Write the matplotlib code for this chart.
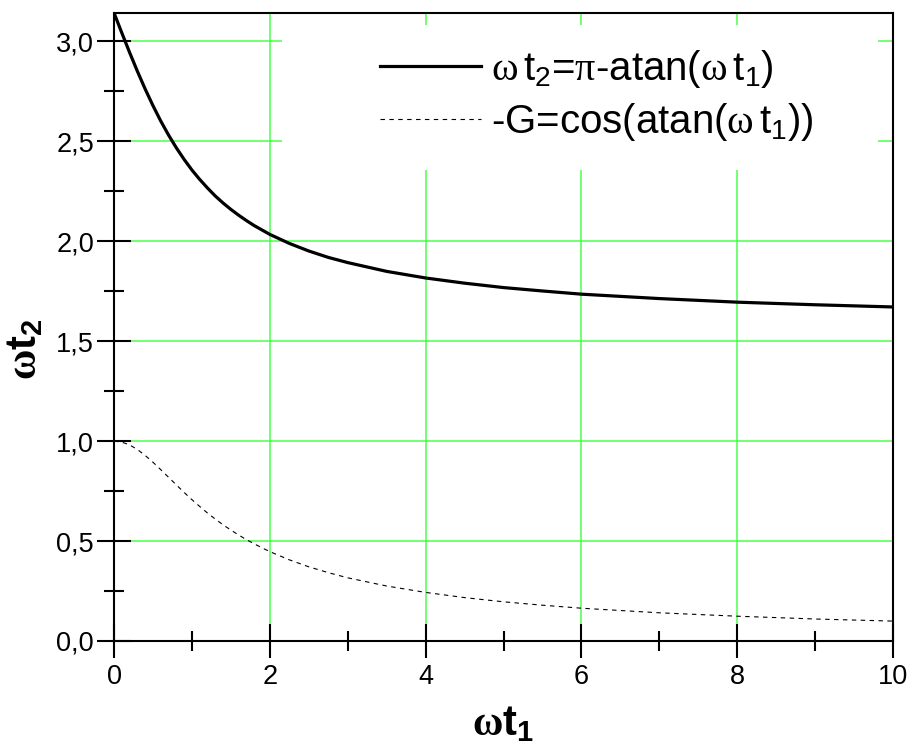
import matplotlib
matplotlib.use("Agg")
import matplotlib.pyplot as plt
import matplotlib.patches as mpatches
from matplotlib.ticker import MultipleLocator, FuncFormatter

# values
wt1 = [0, 0.1, 0.2, 0.3, 0.4, 0.5, 0.6, 0.7, 0.8, 0.9, 1.0, 1.1, 1.2, 1.3,
       1.4, 1.5, 1.6, 1.7, 1.8, 1.9, 2.0, 2.25, 2.5, 2.75, 3.0, 3.5, 4.0,
       4.5, 5.0, 5.5, 6.0, 7.0, 8.0, 9.0, 10.0]
wt2 = [3.142, 3.042, 2.944, 2.850, 2.761, 2.678, 2.601, 2.531, 2.467, 2.409,
       2.356, 2.309, 2.266, 2.226, 2.191, 2.159, 2.130, 2.103, 2.078, 2.056,
       2.034, 1.989, 1.951, 1.919, 1.893, 1.849, 1.816, 1.790, 1.768, 1.751,
       1.735, 1.713, 1.695, 1.682, 1.671]
minus_g = [1.000, 0.995, 0.981, 0.958, 0.928, 0.894, 0.857, 0.819, 0.781,
           0.743, 0.707, 0.673, 0.640, 0.610, 0.581, 0.555, 0.530, 0.507,
           0.486, 0.466, 0.447, 0.406, 0.371, 0.342, 0.316, 0.275, 0.243,
           0.217, 0.196, 0.179, 0.164, 0.141, 0.124, 0.110, 0.0995]

label_wt2 = (r"$\mathcal{\omega}\,\mathrm{t}_2\text{=}\mathcal{\pi}"
             r"\text{-atan(}\mathcal{\omega}\,\mathrm{t}_1\text{)}$")
label_g = r"$\text{-G=cos(atan(}\mathcal{\omega}\,\mathrm{t}_1\text{))}$"

plt.rcParams["font.family"] = ["Liberation Sans", "DejaVu Sans"]
plt.rcParams["mathtext.fontset"] = "custom"
plt.rcParams["mathtext.rm"] = "Liberation Sans"
plt.rcParams["mathtext.it"] = "Liberation Sans:italic"
plt.rcParams["mathtext.bf"] = "Liberation Sans:bold"
plt.rcParams["mathtext.cal"] = "Liberation Serif"
plt.rcParams["mathtext.sf"] = "Liberation Serif:bold"

fig = plt.figure(figsize=(9.13, 7.43), dpi=100)
ax = fig.add_axes([0.1249, 0.1373, 0.8532, 0.8452])

ax.plot(wt1, wt2, color="black", linewidth=2.3, zorder=3, label=label_wt2)
ax.plot(wt1, minus_g, color="black", linewidth=0.8, linestyle=(0, (4, 4)),
        zorder=3, label=label_g)

ax.set_xlim(0, 10)
ax.set_ylim(0, 3.1416)

ax.xaxis.set_major_locator(MultipleLocator(2))
ax.xaxis.set_minor_locator(MultipleLocator(1))
ax.yaxis.set_major_locator(MultipleLocator(0.5))
ax.yaxis.set_minor_locator(MultipleLocator(0.25))
ax.xaxis.set_major_formatter(FuncFormatter(lambda v, p: f"{v:g}"))
ax.yaxis.set_major_formatter(FuncFormatter(lambda v, p: f"{v:.1f}".replace(".", ",")))

ax.tick_params(which="major", direction="inout", length=25, width=1.5,
               labelsize=19.5, top=False, right=False)
ax.tick_params(axis="y", which="major", pad=2)
ax.tick_params(axis="x", which="major", pad=4)
ax.tick_params(which="minor", direction="inout", length=14, width=1.5,
               top=False, right=False)
for spine in ax.spines.values():
    spine.set_linewidth(1.5)

ax.set_axisbelow(True)
ax.grid(True, which="major", color="#30FF30", linewidth=1.2, alpha=0.8)

# white area behind the legend, hides the grid there
ax.add_patch(mpatches.Rectangle((0.2157, 0.750), 0.7653, 0.231,
                                transform=ax.transAxes, facecolor="white",
                                edgecolor="none", zorder=1))

ax.legend(loc="upper left", bbox_to_anchor=(0.3415, 0.944), frameon=False,
          fontsize=29, handlelength=2.5, handletextpad=0.26,
          labelspacing=0.28, borderpad=0, borderaxespad=0)

ax.set_xlabel(r"$\mathsf{\omega}\mathbf{t_1}$", fontsize=30)
ax.set_ylabel(r"$\mathsf{\omega}\mathbf{t_2}$", fontsize=30)
ax.xaxis.set_label_coords(0.5, -0.1)
ax.yaxis.set_label_coords(-0.088, 0.465)

fig.savefig("out.png", dpi=100)
